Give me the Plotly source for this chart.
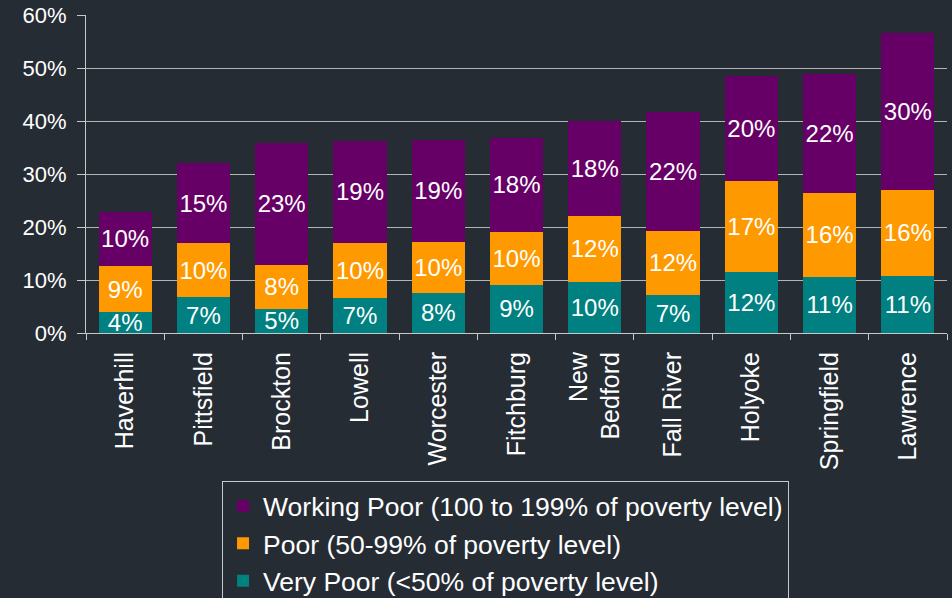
import plotly.graph_objects as go

cities = ["Haverhill", "Pittsfield", "Brockton", "Lowell", "Worcester", "Fitchburg",
          "New<br>Bedford", "Fall River", "Holyoke", "Springfield", "Lawrence"]
very_poor = [4.0, 6.7, 4.6, 6.6, 7.6, 9.1, 9.7, 7.2, 11.6, 10.6, 10.8]
poor = [8.6, 10.2, 8.3, 10.4, 9.6, 10.0, 12.4, 12.1, 17.1, 15.9, 16.2]
working_poor = [10.3, 15.2, 22.9, 19.3, 19.3, 17.7, 17.9, 22.4, 19.8, 22.4, 29.6]

series_names = ["Very Poor (<50% of poverty level)",
                "Poor (50-99% of poverty level)",
                "Working Poor (100 to 199% of poverty level)"]
series_values = [very_poor, poor, working_poor]
series_colors = ["#008080", "#ff9900", "#660066"]
legend_ranks = [3, 2, 1]

BG = "#262c34"
FONT = "Liberation Sans, Arial, sans-serif"

fig = go.Figure()
for name, vals, col, rank in zip(series_names, series_values, series_colors, legend_ranks):
    fig.add_trace(go.Bar(
        x=cities, y=vals, name=name, marker=dict(color=col, line=dict(width=0)),
        texttemplate="%{y:.0f}%", textposition="inside", insidetextanchor="middle",
        textfont=dict(color="white", size=24, family=FONT), textangle=0,
        legendgroup=name, legendrank=rank, hoverinfo="skip",
    ))

fig.update_layout(
    barmode="stack", bargap=0.32,
    width=952, height=598,
    paper_bgcolor=BG, plot_bgcolor=BG,
    margin=dict(l=86, r=5, t=15, b=265, autoexpand=False),
    font=dict(family=FONT, color="white", size=22),
    uniformtext=dict(mode="show", minsize=24),
    legend=dict(
        x=0.158, y=-0.466, xanchor="left", yanchor="top",
        traceorder="grouped", tracegroupgap=0,
        bgcolor=BG, bordercolor="#c8c8c8", borderwidth=1,
        font=dict(size=26.5, color="white", family=FONT),
    ),
    xaxis=dict(
        tickangle=-90, showline=True, linecolor="#c8c8c8", linewidth=1,
        ticks="outside", tickson="boundaries", ticklen=6, tickcolor="#c8c8c8",
        tickfont=dict(size=25, color="white"), showgrid=False,
        ticklabelstandoff=8, automargin=False,
    ),
    yaxis=dict(
        range=[0, 60], dtick=10, ticksuffix="%", showline=True, linecolor="#c8c8c8",
        ticks="outside", ticklen=8, tickcolor="#c8c8c8",
        gridcolor="#b4b4b4", gridwidth=1, zeroline=False,
        tickfont=dict(size=22, color="white"), ticklabelstandoff=6, automargin=False,
    ),
)

fig.write_html("out.html", config={"displayModeBar": False},
               post_script="document.body.style.margin='0';document.body.style.background='%s';" % BG)
